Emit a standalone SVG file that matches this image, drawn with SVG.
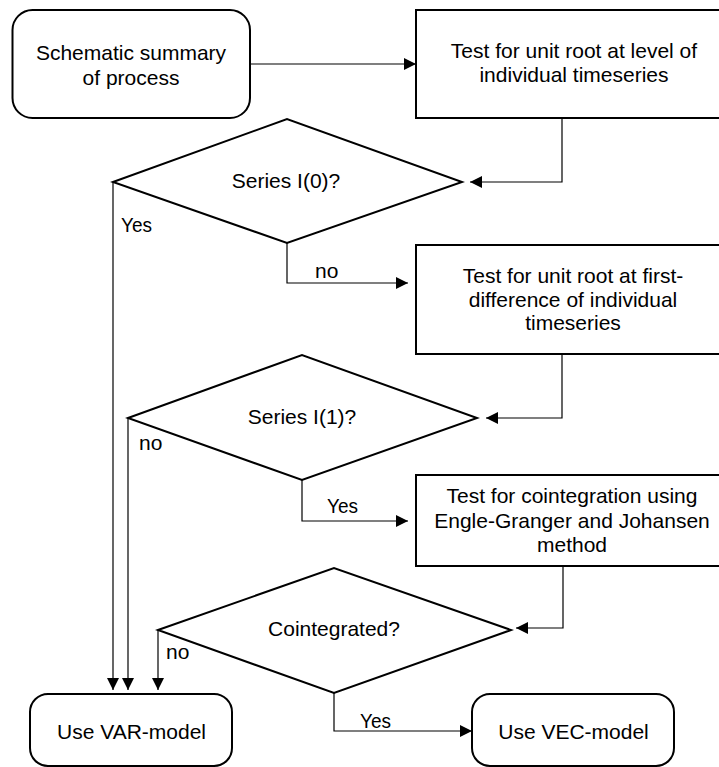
<svg xmlns="http://www.w3.org/2000/svg" width="719" height="767" viewBox="0 0 719 767">
<style>
.box{fill:#fff;stroke:#000;stroke-width:2}
.dia{fill:#fff;stroke:#000;stroke-width:2;stroke-linejoin:miter}
.t{font-family:"Liberation Sans",Arial,sans-serif;font-size:21px;fill:#000;text-anchor:middle}
.l{font-family:"Liberation Sans",Arial,sans-serif;font-size:21px;fill:#000}
.c{fill:none;stroke:#000;stroke-width:1.2}
</style>
<defs>
<marker id="ah" viewBox="0 0 12 12" refX="12" refY="6" markerWidth="12" markerHeight="12" markerUnits="userSpaceOnUse" orient="auto">
<path d="M0,0 L12,6 L0,12 z" fill="#000"/>
</marker>
</defs>
<rect width="719" height="767" fill="#fff"/>
<g id="connectors">
<path class="c" d="M250,64 H416" marker-end="url(#ah)"/>
<path class="c" d="M562,118 V182 H470" marker-end="url(#ah)"/>
<path class="c" d="M113,182 V690" marker-end="url(#ah)"/>
<path class="c" d="M287,243 V283 H408" marker-end="url(#ah)"/>
<path class="c" d="M562,354 V418 H486" marker-end="url(#ah)"/>
<path class="c" d="M128,418 V690" marker-end="url(#ah)"/>
<path class="c" d="M302,480 V521 H408" marker-end="url(#ah)"/>
<path class="c" d="M563,566 V628 H516" marker-end="url(#ah)"/>
<path class="c" d="M158,630 V690" marker-end="url(#ah)"/>
<path class="c" d="M334,693 V731 H472" marker-end="url(#ah)"/>
<text class="l" x="121" y="232" textLength="31" lengthAdjust="spacingAndGlyphs">Yes</text>
<text class="l" x="315" y="278">no</text>
<text class="l" x="139" y="450">no</text>
<text class="l" x="327" y="513" textLength="31" lengthAdjust="spacingAndGlyphs">Yes</text>
<text class="l" x="166" y="659">no</text>
<text class="l" x="360" y="728" textLength="31" lengthAdjust="spacingAndGlyphs">Yes</text>
</g>
<g id="start">
<rect class="box" x="12.5" y="10" width="237.5" height="108" rx="20"/>
<text class="t" x="131" y="60">Schematic summary</text>
<text class="t" x="131" y="85">of process</text>
</g>
<g id="test-level">
<rect class="box" x="416" y="10" width="316" height="108"/>
<text class="t" x="574" y="58">Test for unit root at level of</text>
<text class="t" x="574" y="82">individual timeseries</text>
</g>
<g id="series-i0">
<polygon class="dia" points="113,182 287,119 462,182 287,243"/>
<text class="t" x="286" y="188">Series I(0)?</text>
</g>
<g id="test-diff">
<rect class="box" x="416" y="245" width="316" height="109"/>
<text class="t" x="573" y="283">Test for unit root at first-</text>
<text class="t" x="573" y="307">difference of individual</text>
<text class="t" x="573" y="330">timeseries</text>
</g>
<g id="series-i1">
<polygon class="dia" points="128,418 302,355 477,418 302,480"/>
<text class="t" x="302" y="424">Series I(1)?</text>
</g>
<g id="test-coint">
<rect class="box" x="416" y="475" width="316" height="91"/>
<text class="t" x="572" y="503">Test for cointegration using</text>
<text class="t" x="572" y="528">Engle-Granger and Johansen</text>
<text class="t" x="572" y="552">method</text>
</g>
<g id="cointegrated">
<polygon class="dia" points="158,630 334,568 511,630 334,693"/>
<text class="t" x="334" y="636">Cointegrated?</text>
</g>
<g id="var-model">
<rect class="box" x="30" y="694" width="202" height="72" rx="18"/>
<text class="t" x="131.5" y="739">Use VAR-model</text>
</g>
<g id="vec-model">
<rect class="box" x="472" y="694" width="202" height="72" rx="18"/>
<text class="t" x="573.5" y="739">Use VEC-model</text>
</g>
</svg>
